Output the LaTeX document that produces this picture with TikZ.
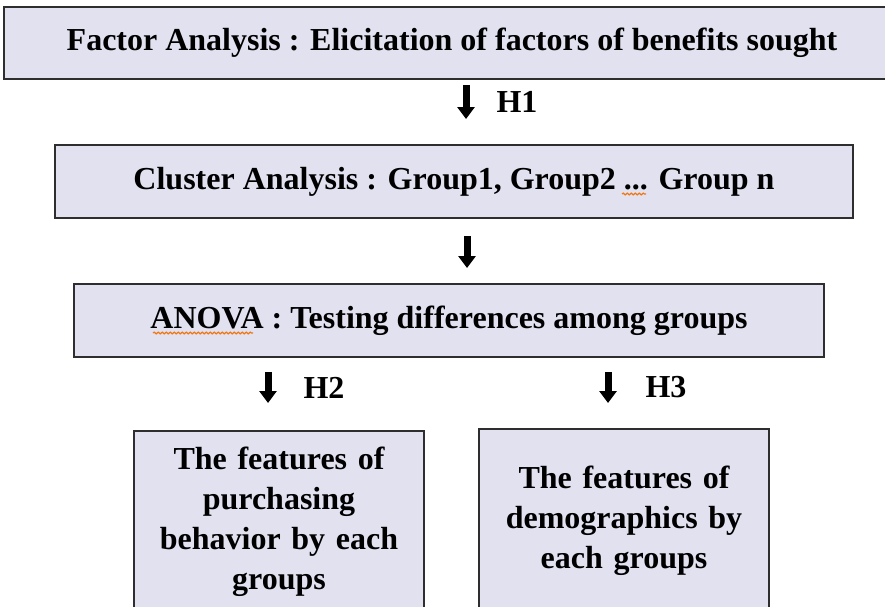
\documentclass[tikz,border=0pt]{standalone}
\usepackage{fontspec}
\setmainfont{Liberation Serif}
\usetikzlibrary{arrows.meta, positioning, decorations.pathmorphing}
\definecolor{lav}{RGB}{225, 225, 240}
\definecolor{edge}{HTML}{2E2E2E}
\definecolor{spell}{RGB}{240, 120, 20}

\begin{document}
\begin{tikzpicture}[x=1pt, y=1pt,
		box/.style={draw=edge, line width=2pt, fill=lav, inner sep=0pt,
			font=\bfseries\fontsize{32}{40}\selectfont, align=center},
		bigarrow/.style={draw=black, line width=7pt, -{Triangle[length=12pt, width=17pt]}},
		hlabel/.style={inner sep=0pt, font=\bfseries\fontsize{32}{40}\selectfont},
		squiggle/.style={draw=spell, line width=1.2pt, decorate,
			decoration={snake, segment length=4pt, amplitude=0.9pt}}
	]
			\clip (0, 0) rectangle (885, -606);
			\fill[white] (0, 0) rectangle (885, -606);
			
			\node[box, minimum width=896, minimum height=72] (factor) at (452, -43)
				{Factor Analysis : Elicitation of factors of benefits sought};
			\node[box, minimum width=798, minimum height=73] (cluster) at (454, -181.5)
				{Cluster Analysis : Group1, Group2 ... Group n};
			\node[box, minimum width=750, minimum height=73] (anova) at (449, -320.5)
				{ANOVA : Testing differences among groups};
			
			\node[box, minimum width=290, minimum height=181, text width=280] (purchase) at (279, -521.5)
				{The features of\\ purchasing\\ behavior by each\\ groups};
			\node[box, minimum width=290, minimum height=183, text width=280] (demo) at (624, -520.5)
				{The features of\\ demographics by\\ each groups};
			
			\draw[bigarrow] ([xshift=14pt, yshift=-5pt]factor.south) -- ([xshift=12pt, yshift=25pt]cluster.north)
				node[hlabel, midway, right=27pt] (h1) {H1};
			\draw[bigarrow] ([xshift=13pt, yshift=-17pt]cluster.south) -- ([xshift=18pt, yshift=15pt]anova.north);
			\draw[bigarrow] ([xshift=-181pt, yshift=-14pt]anova.south) -- ([xshift=-11pt, yshift=27pt]purchase.north)
				node[hlabel, midway, right=32pt] (h2) {H2};
			\draw[bigarrow] ([xshift=159pt, yshift=-14pt]anova.south) -- ([xshift=-16pt, yshift=25pt]demo.north)
				node[hlabel, midway, right=34pt] (h3) {H3};
			
			% spell-check marks
			\draw[squiggle] (153, -333) -- (253, -333);
			\draw[squiggle] (622, -194) -- (646, -194);
			
		\end{tikzpicture}
\end{document}
